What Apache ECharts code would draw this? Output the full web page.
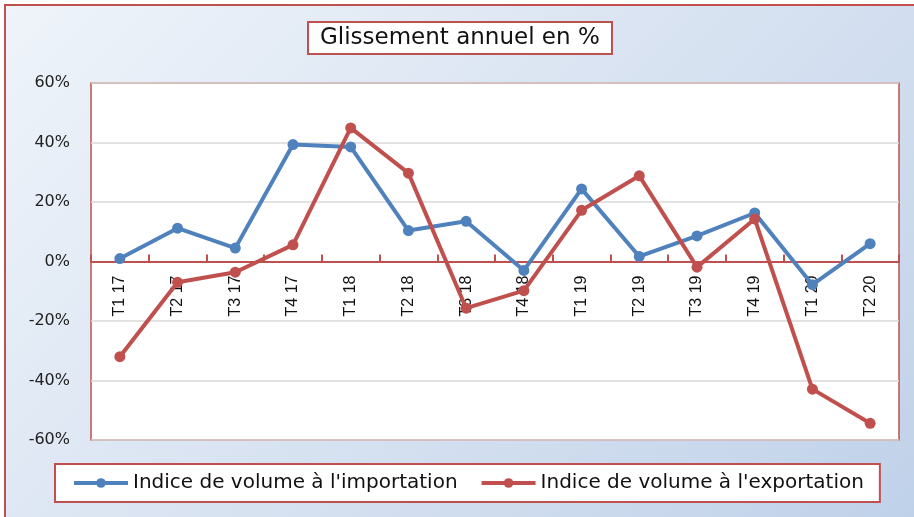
<!DOCTYPE html>
<html>
<head>
<meta charset="utf-8">
<script src="https://cdn.jsdelivr.net/npm/echarts@6/dist/echarts.min.js"></script>
<style>
  html, body { margin: 0; padding: 0; background: #fff; }
  #main { width: 914px; height: 517px; }
</style>
</head>
<body>
<div id="main"></div>
<script>
// trimestres
const categories = ["T1 17", "T2 17", "T3 17", "T4 17", "T1 18", "T2 18", "T3 18",
  "T4 18", "T1 19", "T2 19", "T3 19", "T4 19", "T1 20", "T2 20"];

// glissement annuel, en %
const importVolume = [1, 11.2, 4.5, 39.3, 38.5, 10.4, 13.5, -3, 24.4, 1.7, 8.6, 16.3, -7.8, 6];
const exportVolume = [-32, -7, -3.6, 5.6, 44.9, 29.7, -15.7, -9.8, 17.2, 28.8, -1.9, 14.3, -42.9, -54.4];

const yTicks = [-60, -40, -20, 0, 20, 40, 60];

const red = "#c0504d";
const blue = "#4f81bd";
const font = "'DejaVu Sans', 'Open Sans', sans-serif";

// zone du graphique
const gridTop = 83, gridBottom = 77;
const gridH = 517 - gridTop - gridBottom;

const chart = echarts.init(document.getElementById("main"));

chart.setOption({
  backgroundColor: "#fff",
  animation: false,
  graphic: [
    {
      type: "rect",
      z: -10,
      shape: { x: 5, y: 5, width: 1000, height: 1000 },
      style: {
        fill: new echarts.graphic.LinearGradient(0, 0, 1, 1, [
          { offset: 0, color: "#eff4fa" },
          { offset: 0.5, color: "#cfdcee" },
          { offset: 1, color: "#a9c2e2" }
        ]),
        stroke: red,
        lineWidth: 2
      }
    }
  ],
  title: {
    text: "Glissement annuel en %",
    left: 308,
    top: 22,
    padding: [5, 12, 4, 12],
    backgroundColor: "#fff",
    borderColor: red,
    borderWidth: 2,
    textStyle: { fontFamily: font, fontSize: 23, fontWeight: "normal", color: "#111" }
  },
  legend: {
    left: 55,
    top: 464,
    padding: [9, 16, 9, 17],
    itemGap: 22,
    itemWidth: 54,
    itemHeight: 12,
    lineStyle: { width: 4 },
    backgroundColor: "#fff",
    borderColor: red,
    borderWidth: 2,
    textStyle: { fontFamily: font, fontSize: 20, color: "#111" }
  },
  grid: {
    left: 91,
    right: 15,
    top: gridTop,
    bottom: gridBottom,
    show: true,
    backgroundColor: "#fff",
    borderColor: red,
    borderWidth: 1.5
  },
  xAxis: {
    type: "category",
    data: categories,
    // axe placé sur la ligne 0%
    offset: -gridH / 2,
    axisLine: { onZero: false, lineStyle: { color: red, width: 2 } },
    axisTick: { show: true, inside: true, length: 7, lineStyle: { color: red, width: 2 } },
    axisLabel: {
      interval: 0,
      rotate: 90,
      margin: 14,
      fontFamily: "'Liberation Sans', Arial, sans-serif",
      fontSize: 16,
      color: "#111"
    }
  },
  yAxis: {
    type: "value",
    min: yTicks[0],
    max: yTicks[yTicks.length - 1],
    interval: 20,
    axisLine: { show: false },
    axisTick: { show: false },
    axisLabel: {
      margin: 21,
      fontFamily: font,
      fontSize: 16,
      color: "#222",
      formatter: v => v + "%"
    },
    splitLine: { lineStyle: { color: "#d9d9d9", width: 1.5 } }
  },
  series: [
    {
      name: "Indice de volume à l'importation",
      type: "line",
      data: importVolume,
      symbol: "circle",
      symbolSize: 11,
      lineStyle: { color: blue, width: 4 },
      itemStyle: { color: blue }
    },
    {
      name: "Indice de volume à l'exportation",
      type: "line",
      data: exportVolume,
      symbol: "circle",
      symbolSize: 11,
      lineStyle: { color: red, width: 4 },
      itemStyle: { color: red }
    }
  ]
});
</script>
</body>
</html>
